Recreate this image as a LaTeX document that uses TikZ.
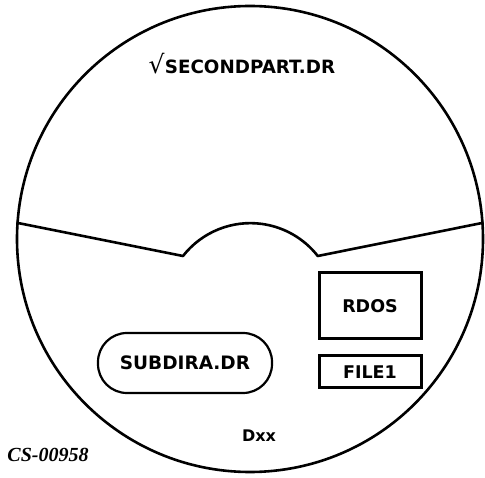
\documentclass[tikz,border=0pt]{standalone}
\usepackage{fontspec}
\setmainfont{DejaVu Sans}
\newfontfamily\csfont{Liberation Serif}
\usepackage{tikz}
\usetikzlibrary{positioning}

\begin{document}
\begin{tikzpicture}[
    x=1pt, y=1pt,
    disk/.style={
        line width=2.6pt,
        line join=round
    },
    box/.style={
        rectangle,
        draw,
        line width=3pt,
        inner sep=0pt,
        minimum width=102pt,
        font=\bfseries\fontsize{17.5}{19}\selectfont
    },
    filename/.style={
        inner sep=0pt,
        font=\bfseries\fontsize{18.3}{20}\selectfont
    }
]
\useasboundingbox (0,0) rectangle (485,477);

\node[draw, disk, circle, inner sep=0pt, minimum size=466pt] (disk) at (250,238) {};

% boundary between the two parts
\draw[disk] (disk.176.6) -- (183,221)
    arc[start angle=142, end angle=38, radius=85.5pt] -- (disk.4.4);

\node[filename] (secondpart) at (250,410) {SECONDPART.DR};
\node[inner sep=0pt, font=\fontsize{25}{27}\selectfont,
    left=0pt of secondpart.base west, anchor=base east] (check) {√};

\node[box, minimum height=66pt] (rdos) at (370,171) {RDOS};
\node[box, minimum height=32pt, below=14pt of rdos] (file1) {FILE1};

\node[box, rounded corners=29pt, line width=2.2pt,
    minimum width=174pt, minimum height=60pt,
    font=\bfseries\fontsize{18.5}{20}\selectfont] (subdira) at (185,114) {SUBDIRA.DR};

\node[filename, font=\bfseries\fontsize{16}{18}\selectfont] (dxx) at (259,41) {Dxx};

\node[inner sep=0pt, font=\csfont\bfseries\itshape\fontsize{20}{22}\selectfont] (csnum) at (48,22) {CS-00958};

\end{tikzpicture}
\end{document}
